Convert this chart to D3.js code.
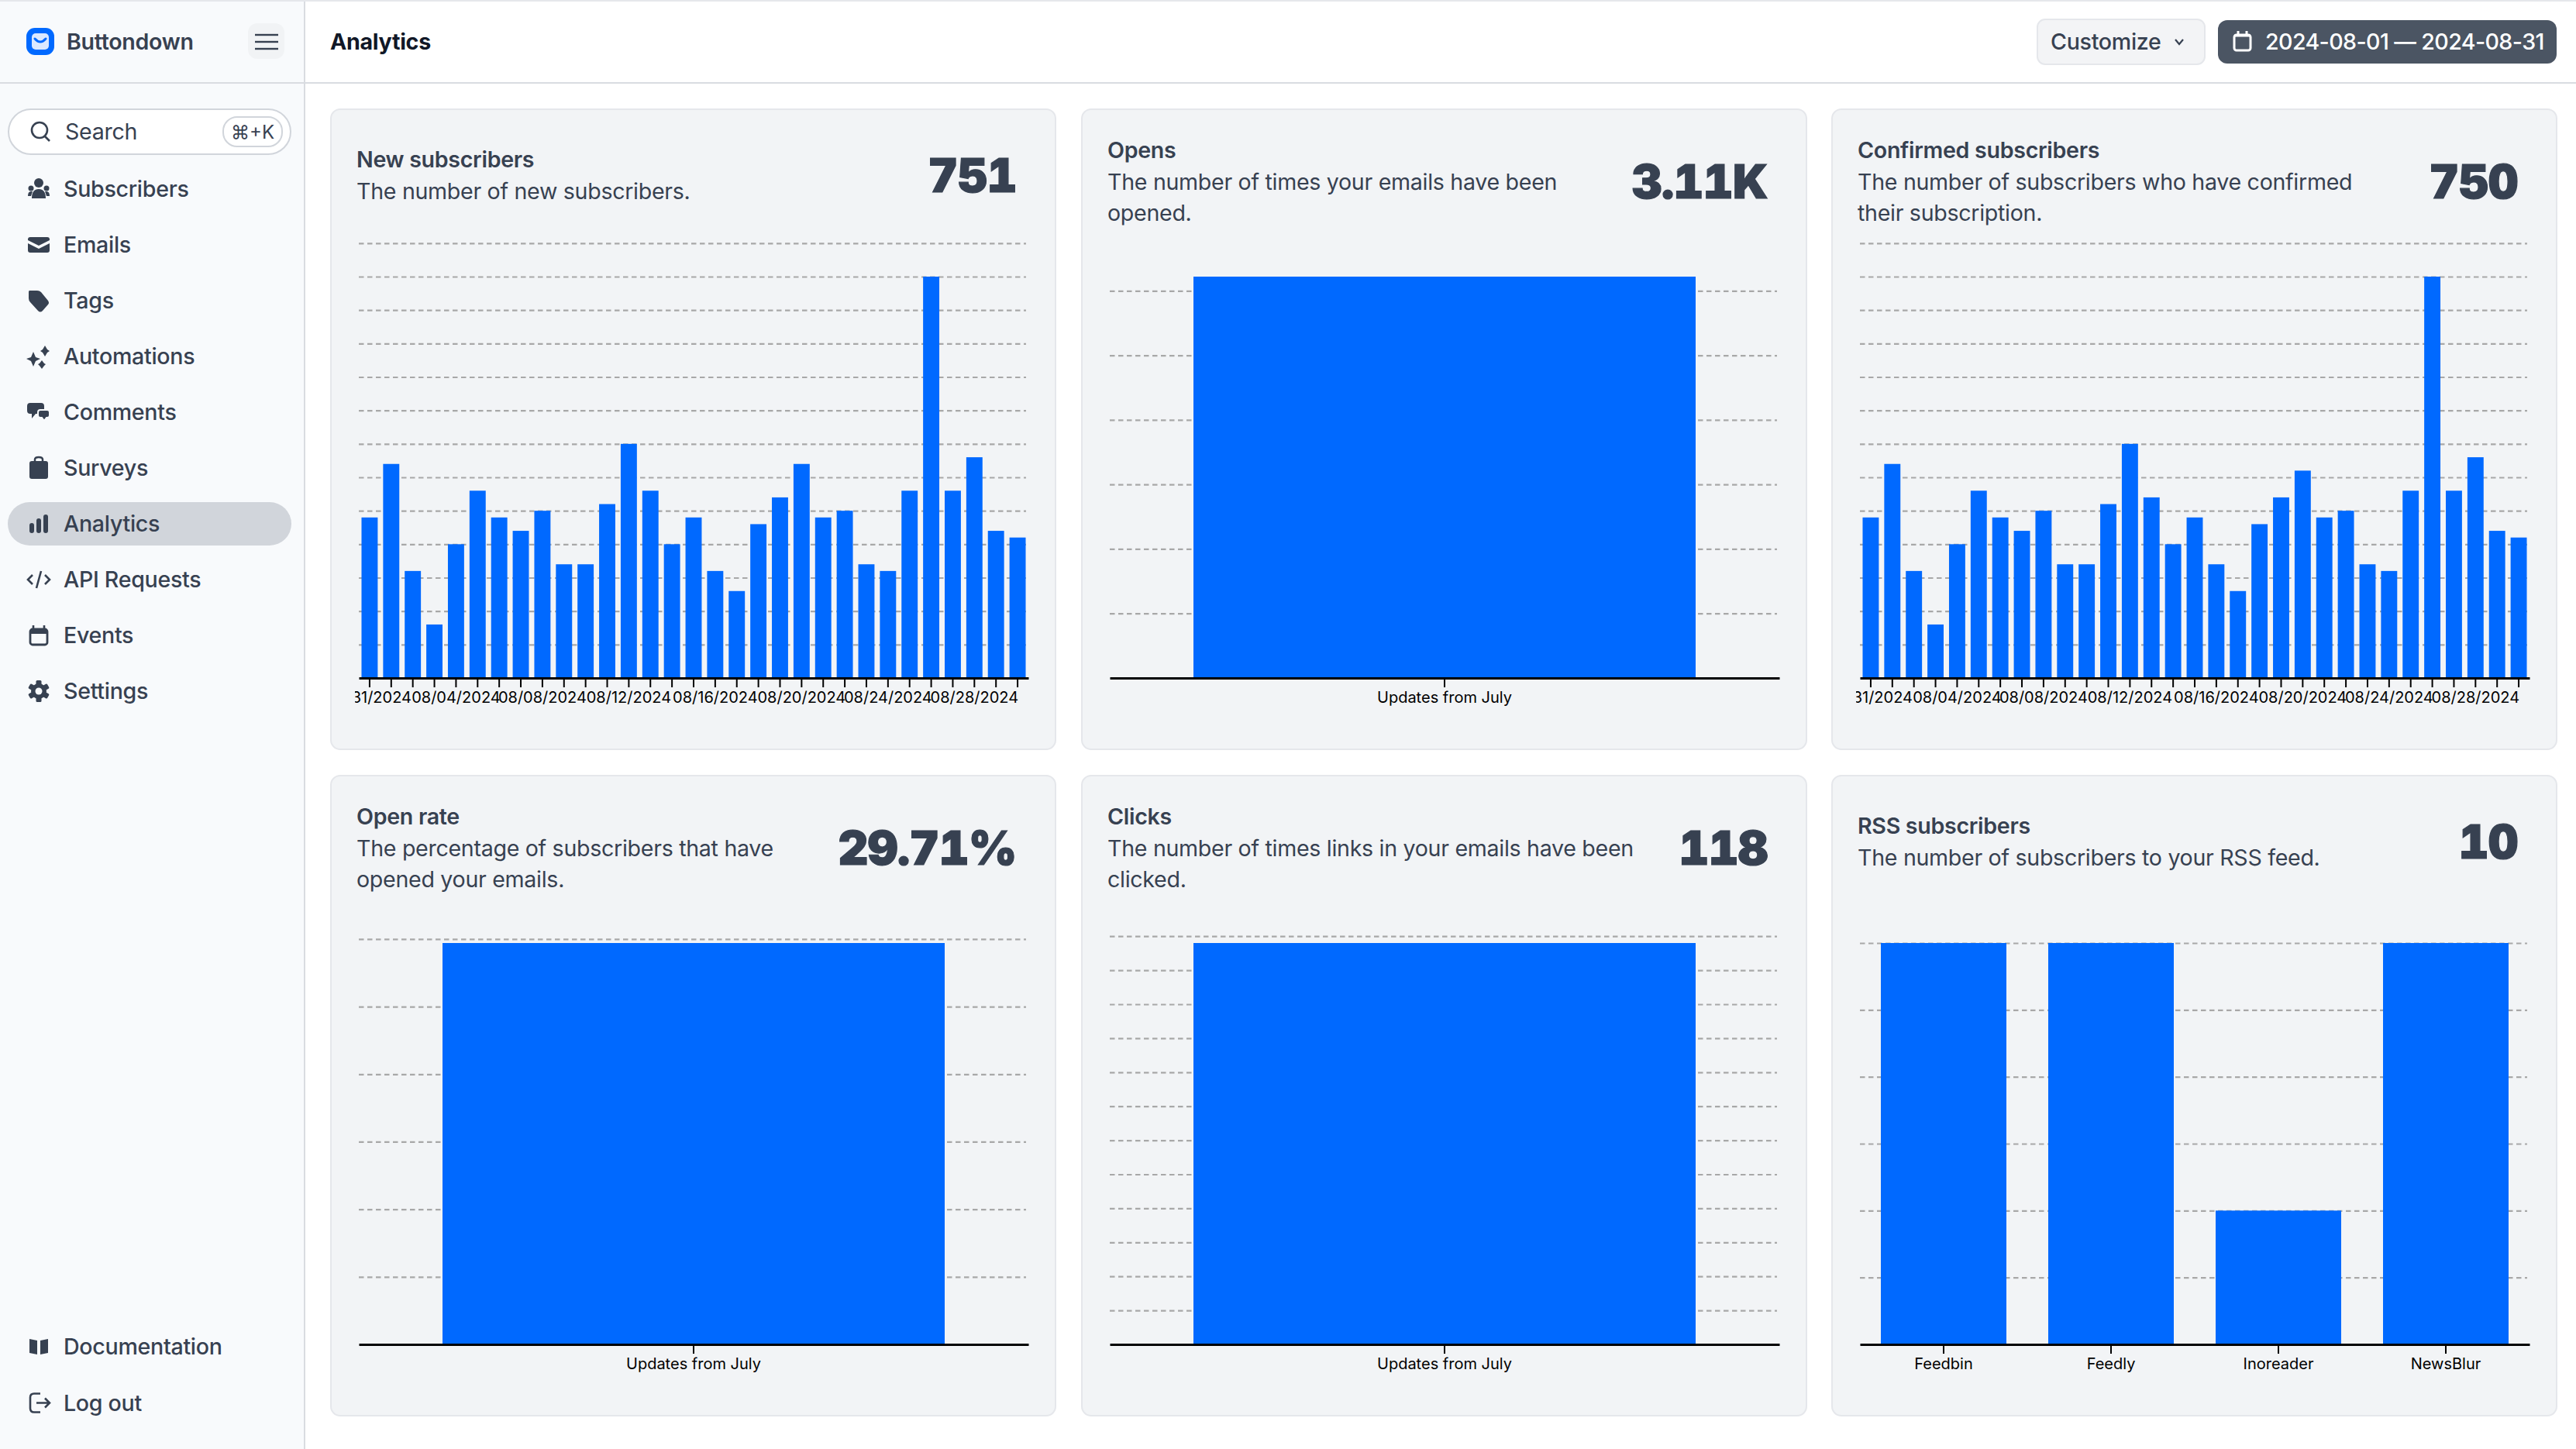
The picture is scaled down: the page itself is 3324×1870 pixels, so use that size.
<!DOCTYPE html>
<html>
<head>
<meta charset="utf-8" />
<title>Analytics</title>
<script src="https://d3js.org/d3.v7.min.js"></script>
<style>
  body { margin: 0; background: #fff; overflow: hidden; }
  svg { display: block; font-family: Inter, "Noto Sans", sans-serif; }
  .axis text { font-family: Inter, sans-serif; }
  .big { font-variant-numeric: tabular-nums; font-feature-settings: "tnum"; }
</style>
</head>
<body>
<svg id="page" width="3324" height="1870"></svg>
<script>

// daily categories, axis only labels every 4th one
const days = ["07/31/2024","08/01/2024","08/02/2024","08/03/2024","08/04/2024","08/05/2024","08/06/2024","08/07/2024",
  "08/08/2024","08/09/2024","08/10/2024","08/11/2024","08/12/2024","08/13/2024","08/14/2024","08/15/2024",
  "08/16/2024","08/17/2024","08/18/2024","08/19/2024","08/20/2024","08/21/2024","08/22/2024","08/23/2024",
  "08/24/2024","08/25/2024","08/26/2024","08/27/2024","08/28/2024","08/29/2024","08/30/2024"];
const dayLabels = ["07/31/2024","08/04/2024","08/08/2024","08/12/2024","08/16/2024","08/20/2024","08/24/2024","08/28/2024"];

const newSubscribers = [24,32,16,8,20,28,24,22,25,17,17,26,35,28,20,24,16,13,23,27,32,24,25,17,16,28,60,28,33,22,21];
const confirmedSubscribers = [24,32,16,8,20,28,24,22,25,17,17,26,35,27,20,24,17,13,23,27,31,24,25,17,16,28,60,28,33,22,21];
const newTicks = [5,10,15,20,25,30,35,40,45,50,55,60,65];

const julyCategory = ["Updates from July"];
const opensValues = [3110];
const opensTicks = [500,1000,1500,2000,2500,3000];
const openRateValues = [29.71];
const openRateTicks = [5,10,15,20,25,30];
const clicksValues = [118];
const clicksTicks = [10,20,30,40,50,60,70,80,90,100,110,120];

const rssReaders = ["Feedbin","Feedly","Inoreader","NewsBlur"];
const rssValues = [3,3,1,3];
const rssTicks = [0.5,1,1.5,2,2.5,3];

const navTop = ["Subscribers","Emails","Tags","Automations","Comments","Surveys","Analytics","API Requests","Events","Settings"];
const navBottom = ["Documentation","Log out"];

const BLUE = "#0069ff", INK = "#374151", PLOT_H = 518, BODY = 28.6;
const svg = d3.select("#page");

function label(parent, x, y, str, size, weight, fill, anchor) {
  // y is the middle of the capitals
  return parent.append("text")
    .attr("x", x).attr("y", y + size * 0.36)
    .attr("font-size", size).attr("font-weight", weight)
    .attr("letter-spacing", size === BODY ? -0.3 : null)
    .attr("fill", fill).attr("text-anchor", anchor || "start")
    .text(str);
}

// ---- page chrome
svg.append("rect").attr("width", 393).attr("height", 1870).attr("fill", "#f8fafc");
svg.append("rect").attr("x", 392).attr("width", 2).attr("height", 1870).attr("fill", "#d9dce1");
svg.append("rect").attr("y", 106).attr("width", 3324).attr("height", 2).attr("fill", "#d9dce1");
svg.append("rect").attr("width", 3324).attr("height", 2).attr("fill", "#e5e7eb");

// logo
svg.append("rect").attr("x", 34).attr("y", 36).attr("width", 36).attr("height", 35).attr("rx", 11).attr("fill", BLUE);
svg.append("rect").attr("x", 41).attr("y", 43).attr("width", 22).attr("height", 21).attr("rx", 5).attr("fill", "#dbe9ff");
svg.append("path").attr("d", "M45 50 q7 8 14 0").attr("fill", "none").attr("stroke", BLUE).attr("stroke-width", 3).attr("stroke-linecap", "round");
label(svg, 86, 54, "Buttondown", BODY, 600, INK);

// hamburger
svg.append("rect").attr("x", 320).attr("y", 30).attr("width", 47).attr("height", 46).attr("rx", 12).attr("fill", "#f1f3f5");
[45, 54, 63].forEach(y => {
  svg.append("line").attr("x1", 329).attr("x2", 359).attr("y1", y).attr("y2", y).attr("stroke", INK).attr("stroke-width", 2.4);
});

label(svg, 426, 54, "Analytics", BODY, 700, "#111827");

// search box
svg.append("rect").attr("x", 11).attr("y", 141).attr("width", 364).attr("height", 58).attr("rx", 29)
  .attr("fill", "#fff").attr("stroke", "#d1d5db").attr("stroke-width", 2);
svg.append("circle").attr("cx", 51).attr("cy", 168).attr("r", 10).attr("fill", "none").attr("stroke", INK).attr("stroke-width", 2.6);
svg.append("line").attr("x1", 58).attr("y1", 176).attr("x2", 64).attr("y2", 182).attr("stroke", INK).attr("stroke-width", 2.6);
label(svg, 84, 170, "Search", BODY, 400, INK);
svg.append("rect").attr("x", 288).attr("y", 151).attr("width", 76).attr("height", 38).attr("rx", 18)
  .attr("fill", "#fff").attr("stroke", "#d1d5db").attr("stroke-width", 2);
label(svg, 326, 170, "⌘+K", 24, 400, INK, "middle");

// nav highlight
svg.append("rect").attr("x", 10).attr("y", 648).attr("width", 366).attr("height", 56).attr("rx", 28).attr("fill", "#d1d5db");

const icons = {
  "Subscribers": g => {
    g.append("circle").attr("cx", 0).attr("cy", -8).attr("r", 6).attr("fill", INK);
    g.append("circle").attr("cx", -10).attr("cy", -1).attr("r", 3.5).attr("fill", INK);
    g.append("circle").attr("cx", 10).attr("cy", -1).attr("r", 3.5).attr("fill", INK);
    g.append("path").attr("d", "M-9 12 q0 -12 9 -12 q9 0 9 12 z").attr("fill", INK);
    g.append("path").attr("d", "M-14 9 q0 -6 4 -6 l2 0 l-2 6 z M14 9 q0 -6 -4 -6 l-2 0 l2 6 z").attr("fill", INK);
  },
  "Emails": g => {
    g.append("path").attr("d", "M-14 -7 q0 -3 3 -3 h22 q3 0 3 3 v1 l-14 7 l-14 -7 z").attr("fill", INK);
    g.append("path").attr("d", "M-14 -2 l14 7 l14 -7 v9 q0 3 -3 3 h-22 q-3 0 -3 -3 z").attr("fill", INK);
  },
  "Tags": g => {
    g.append("path").attr("d", "M-12 -13 h10 q3 0 5 2 l9 11 q2 3 0 5 l-7 8 q-3 3 -6 0 l-10 -11 q-2 -2 -2 -5 v-8 q0 -2 1 -2 z").attr("fill", INK);
  },
  "Automations": g => {
    g.append("path").attr("d", "M-7 -6 l3 7 l6 2 l-6 3 l-3 7 l-3 -7 l-6 -3 l6 -2 z").attr("fill", INK);
    g.append("path").attr("d", "M8 -14 l3 5 l3 2 l-3 2 l-3 5 l-3 -5 l-3 -2 l3 -2 z").attr("fill", INK);
    g.append("path").attr("d", "M4 5 l3 4 l2 1 l-2 2 l-3 4 l-3 -4 l-2 -2 l2 -1 z").attr("fill", INK);
  },
  "Comments": g => {
    g.append("path").attr("d", "M-11 -12 h14 q4 0 4 4 v6 q0 4 -4 4 h-7 l-5 6 v-6 h-2 q-4 0 -4 -4 v-6 q0 -4 4 -4 z").attr("fill", INK);
    g.append("path").attr("d", "M2 -3 h9 q3 0 3 3 v4 q0 3 -3 3 h-1 l-3 4 l-3 -4 h-2 q-3 0 -3 -3 v-4 q0 -3 3 -3 z").attr("fill", INK).attr("stroke", "#f8fafc").attr("stroke-width", 2);
  },
  "Surveys": g => {
    g.append("rect").attr("x", -12).attr("y", -9).attr("width", 24).attr("height", 23).attr("rx", 3).attr("fill", INK);
    g.append("path").attr("d", "M-5 -9 v-2 q0 -3 5 -3 q5 0 5 3 v2").attr("fill", "none").attr("stroke", INK).attr("stroke-width", 2.5);
  },
  "Analytics": g => {
    g.append("rect").attr("x", -12).attr("y", -1).attr("width", 6).attr("height", 13).attr("rx", 3).attr("fill", INK);
    g.append("rect").attr("x", -3).attr("y", -7).attr("width", 6).attr("height", 19).attr("rx", 3).attr("fill", INK);
    g.append("rect").attr("x", 6).attr("y", -12).attr("width", 6).attr("height", 24).attr("rx", 3).attr("fill", INK);
  },
  "API Requests": g => {
    g.append("path").attr("d", "M-8 -6 l-6 6 l6 6 M8 -6 l6 6 l-6 6 M3 -11 l-6 22").attr("fill", "none").attr("stroke", INK).attr("stroke-width", 2.6);
  },
  "Events": g => {
    g.append("rect").attr("x", -11).attr("y", -8).attr("width", 22).attr("height", 20).attr("rx", 3).attr("fill", "none").attr("stroke", INK).attr("stroke-width", 2.8);
    g.append("rect").attr("x", -11).attr("y", -8).attr("width", 22).attr("height", 6).attr("fill", INK);
    g.append("path").attr("d", "M-7 -13 v5 M7 -13 v5").attr("stroke", INK).attr("stroke-width", 2.6);
  },
  "Settings": g => {
    [0, 60, 120].forEach(a => {
      g.append("rect").attr("x", -3.5).attr("y", -14).attr("width", 7).attr("height", 28).attr("rx", 1.5)
        .attr("transform", "rotate(" + a + ")").attr("fill", INK);
    });
    g.append("circle").attr("r", 10).attr("fill", INK);
    g.append("circle").attr("r", 4.5).attr("fill", "#f8fafc");
  },
  "Documentation": g => {
    g.append("path").attr("d", "M-12 -10 l10 2 v18 l-10 -2 z M12 -10 l-10 2 v18 l10 -2 z").attr("fill", INK);
  },
  "Log out": g => {
    g.append("path").attr("d", "M2 -12 h-8 q-5 0 -5 5 v14 q0 5 5 5 h8").attr("fill", "none").attr("stroke", INK).attr("stroke-width", 2.6);
    g.append("path").attr("d", "M-3 0 h17 M8 -6 l6 6 l-6 6").attr("fill", "none").attr("stroke", INK).attr("stroke-width", 2.6);
  }
};

const drawNav = (name, y) => {
  icons[name](svg.append("g").attr("transform", "translate(50," + y + ")"));
  label(svg, 82, y, name, BODY, 500, INK);
};
navTop.forEach((name, i) => drawNav(name, 244 + i * 72));
navBottom.forEach((name, i) => drawNav(name, 1738 + i * 72.5));

// header buttons
svg.append("rect").attr("x", 2629).attr("y", 25).attr("width", 216).attr("height", 58).attr("rx", 10)
  .attr("fill", "#f3f4f6").attr("stroke", "#e5e7eb").attr("stroke-width", 2);
label(svg, 2646, 54, "Customize", BODY, 500, INK);
svg.append("path").attr("d", "M2807 51 l5 6 l5 -6").attr("fill", "none").attr("stroke", INK).attr("stroke-width", 2.2);
svg.append("rect").attr("x", 2862).attr("y", 26).attr("width", 437).attr("height", 56).attr("rx", 12).attr("fill", "#4b5563");
svg.append("rect").attr("x", 2883).attr("y", 45).attr("width", 21).attr("height", 20).attr("rx", 3).attr("fill", "none").attr("stroke", "#fff").attr("stroke-width", 3);
svg.append("path").attr("d", "M2888 40 v6 M2899 40 v6 M2883 46 h21").attr("stroke", "#fff").attr("stroke-width", 3);
label(svg, 2923, 54, "2024-08-01 — 2024-08-31", BODY, 500, "#fff").attr("letter-spacing", -0.6);

// ---- cards
function drawCard(cfg) {
  const g = svg.append("g");
  g.append("rect").attr("x", cfg.left).attr("y", cfg.top).attr("width", 935).attr("height", 826).attr("rx", 12)
    .attr("fill", "#f2f4f6").attr("stroke", "#e5e7eb").attr("stroke-width", 2);

  const textX = cfg.left + 33;
  label(g, textX, cfg.titleY, cfg.title, BODY, 600, INK);
  cfg.desc.forEach((line, i) => label(g, textX, cfg.titleY + 40.5 * (i + 1), line, BODY, 400, INK));
  label(g, cfg.left + 885, cfg.valueY, cfg.value, 60, 900, INK, "end")
    .attr("class", "big").attr("letter-spacing", -0.5).attr("stroke", INK).attr("stroke-width", 1.2);

  // chart, clipped on the left like the embedded svg is
  const r0 = cfg.left + 36, r1 = r0 + 864;
  const clipId = "clip" + cfg.left + cfg.top;
  svg.append("clipPath").attr("id", clipId).append("rect")
    .attr("x", r0 - 5).attr("y", cfg.top).attr("width", 874).attr("height", 826);
  const plot = g.append("g").attr("clip-path", "url(#" + clipId + ")");

  const x = d3.scaleBand().domain(cfg.categories).range([r0, r1]).paddingInner(0.25).paddingOuter(0.125);
  const y = d3.scaleLinear().domain([0, d3.max(cfg.values)]).range([cfg.base, cfg.base - PLOT_H]);

  const grid = plot.append("g").attr("transform", "translate(" + r0 + ",0)")
    .call(d3.axisLeft(y).tickValues(cfg.ticks).tickSize(-861).tickFormat(""));
  grid.select(".domain").remove();
  grid.selectAll("line").attr("stroke", "#a8a8a8").attr("stroke-width", 2.2).attr("stroke-dasharray", "6.5,4.5");

  plot.selectAll("rect.bar").data(cfg.values).enter().append("rect")
    .attr("class", "bar")
    .attr("x", (d, i) => x(cfg.categories[i]))
    .attr("width", x.bandwidth())
    .attr("y", d => y(d))
    .attr("height", d => cfg.base - y(d))
    .attr("fill", BLUE);

  const axis = plot.append("g").attr("class", "axis").attr("transform", "translate(0," + cfg.base + ")")
    .call(d3.axisBottom(x).tickSize(12).tickSizeOuter(0).tickPadding(6)
      .tickFormat(d => (cfg.tickLabels.includes(d) ? d : "")));
  axis.select(".domain").attr("stroke", "#000").attr("stroke-width", 3);
  axis.selectAll(".tick line").attr("stroke", "#000").attr("stroke-width", 2);
  axis.selectAll(".tick text").attr("font-size", 20).attr("fill", "#000");
}

drawCard({ left: 427, top: 141, base: 875, title: "New subscribers", titleY: 206,
  desc: ["The number of new subscribers."], value: "751", valueY: 226,
  categories: days, values: newSubscribers, ticks: newTicks, tickLabels: dayLabels });
drawCard({ left: 1396, top: 141, base: 875, title: "Opens", titleY: 194,
  desc: ["The number of times your emails have been", "opened."], value: "3.11K", valueY: 234,
  categories: julyCategory, values: opensValues, ticks: opensTicks, tickLabels: julyCategory });
drawCard({ left: 2364, top: 141, base: 875, title: "Confirmed subscribers", titleY: 194,
  desc: ["The number of subscribers who have confirmed", "their subscription."], value: "750", valueY: 234,
  categories: days, values: confirmedSubscribers, ticks: newTicks, tickLabels: dayLabels });
drawCard({ left: 427, top: 1001, base: 1735, title: "Open rate", titleY: 1054,
  desc: ["The percentage of subscribers that have", "opened your emails."], value: "29.71%", valueY: 1094,
  categories: julyCategory, values: openRateValues, ticks: openRateTicks, tickLabels: julyCategory });
drawCard({ left: 1396, top: 1001, base: 1735, title: "Clicks", titleY: 1054,
  desc: ["The number of times links in your emails have been", "clicked."], value: "118", valueY: 1094,
  categories: julyCategory, values: clicksValues, ticks: clicksTicks, tickLabels: julyCategory });
drawCard({ left: 2364, top: 1001, base: 1735, title: "RSS subscribers", titleY: 1066,
  desc: ["The number of subscribers to your RSS feed."], value: "10", valueY: 1086,
  categories: rssReaders, values: rssValues, ticks: rssTicks, tickLabels: rssReaders });

</script>
</body>
</html>
